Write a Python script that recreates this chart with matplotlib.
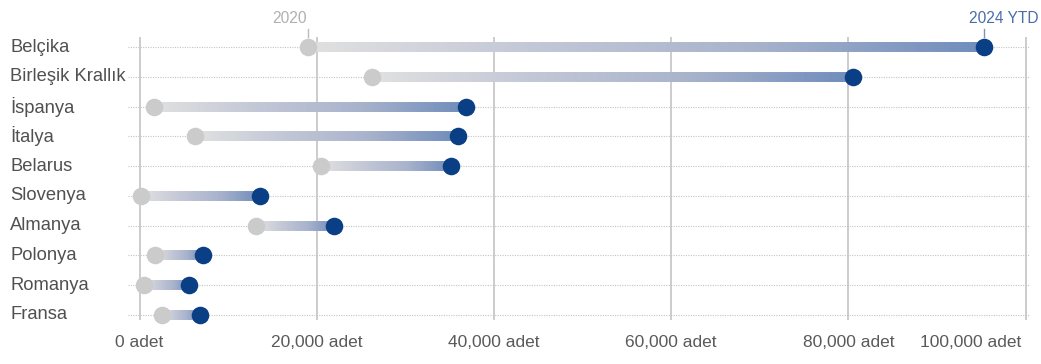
import matplotlib.pyplot as plt
import numpy as np
from matplotlib.collections import LineCollection
from matplotlib.colors import LinearSegmentedColormap
from matplotlib.transforms import blended_transform_factory, offset_copy

countries = ['Belçika', 'Birleşik Krallık', 'İspanya', 'İtalya', 'Belarus',
             'Slovenya', 'Almanya', 'Polonya', 'Romanya', 'Fransa']
v2020 = [19000, 26200, 1600, 6300, 20500, 200, 13200, 1800, 500, 2500]
v2024 = [95300, 80500, 36800, 36000, 35200, 13600, 22000, 7200, 5600, 6800]
xticks = [0, 20000, 40000, 60000, 80000, 100000]
xticklabels = ['0 adet', '20,000 adet', '40,000 adet', '60,000 adet', '80,000 adet', '100,000 adet']

plt.rcParams['font.family'] = ['Liberation Sans', 'DejaVu Sans']

fig = plt.figure(figsize=(10.41, 3.64), dpi=100)
ax = fig.add_axes([128 / 1041, 1 - 320 / 364, (1030 - 128) / 1041, (320 - 37) / 364])

grey = '#cbcbcb'
navy = '#0b3f85'
cmap = LinearSegmentedColormap.from_list('g', ['#e0e0e0', '#c2c7d6', '#a7b2cb', '#6f8cbb'])

ypos = np.arange(len(countries))

# dotted row guides
for y in ypos:
    ax.axhline(y, color='#c4c4c4', lw=0.8, ls=(0, (1, 1.2)), zorder=1)

# vertical grid
for t in xticks:
    ax.axvline(t, color='#c8c8c8', lw=1.3, zorder=0)

# gradient bars
for y, a, b in zip(ypos, v2020, v2024):
    xs = np.linspace(a, b, 120)
    segs = [[(xs[i], y), (xs[min(i + 2, len(xs) - 1)], y)] for i in range(len(xs) - 1)]
    cols = cmap(np.linspace(0, 1, len(segs)))
    lc = LineCollection(segs, colors=cols, linewidths=7, capstyle='butt', zorder=2)
    ax.add_collection(lc)

ax.scatter(v2020, ypos, s=160, color=grey, zorder=3, linewidths=0, clip_on=False)
ax.scatter(v2024, ypos, s=160, color=navy, zorder=4, linewidths=0, clip_on=False)

ax.set_xlim(-1300, 100500)
ax.set_ylim(len(countries) - 1 + 0.17, -0.34)

for s in ax.spines.values():
    s.set_visible(False)
ax.set_yticks([])
ax.set_xticks(xticks)
ax.set_xticklabels(xticklabels, fontsize=12.5, color='#5a5a5a')
ax.tick_params(axis='x', length=0, pad=11)
last = ax.get_xticklabels()[-1]
last.set_horizontalalignment('right')
last.set_transform(offset_copy(last.get_transform(), fig=fig, x=-4, y=0, units='dots'))

# country labels, left aligned at figure edge
tr = blended_transform_factory(fig.transFigure, ax.transData)
for y, c in zip(ypos, countries):
    ax.text(10 / 1041, y, c, transform=tr, ha='left', va='center', fontsize=13.2,
            color='#505050')

# series labels on top
top = blended_transform_factory(ax.transData, ax.transAxes)
ax.plot([v2020[0], v2020[0]], [1.0, 1.03], color='#bbbbbb', lw=1, transform=top, clip_on=False)
ax.plot([v2024[0], v2024[0]], [1.0, 1.03], color='#7f95b8', lw=1, transform=top, clip_on=False)
ax.text(v2020[0], 1.04, '2020', transform=offset_copy(top, fig=fig, x=-1, y=0, units='dots'),
        ha='right', va='bottom', fontsize=11.2, color='#b0b0b0')
ax.text(v2024[0], 1.04, '2024 YTD', transform=offset_copy(top, fig=fig, x=-15, y=0, units='dots'),
        ha='left', va='bottom', fontsize=11.2, color='#4a6ea8')

fig.savefig('out.png', dpi=100)
